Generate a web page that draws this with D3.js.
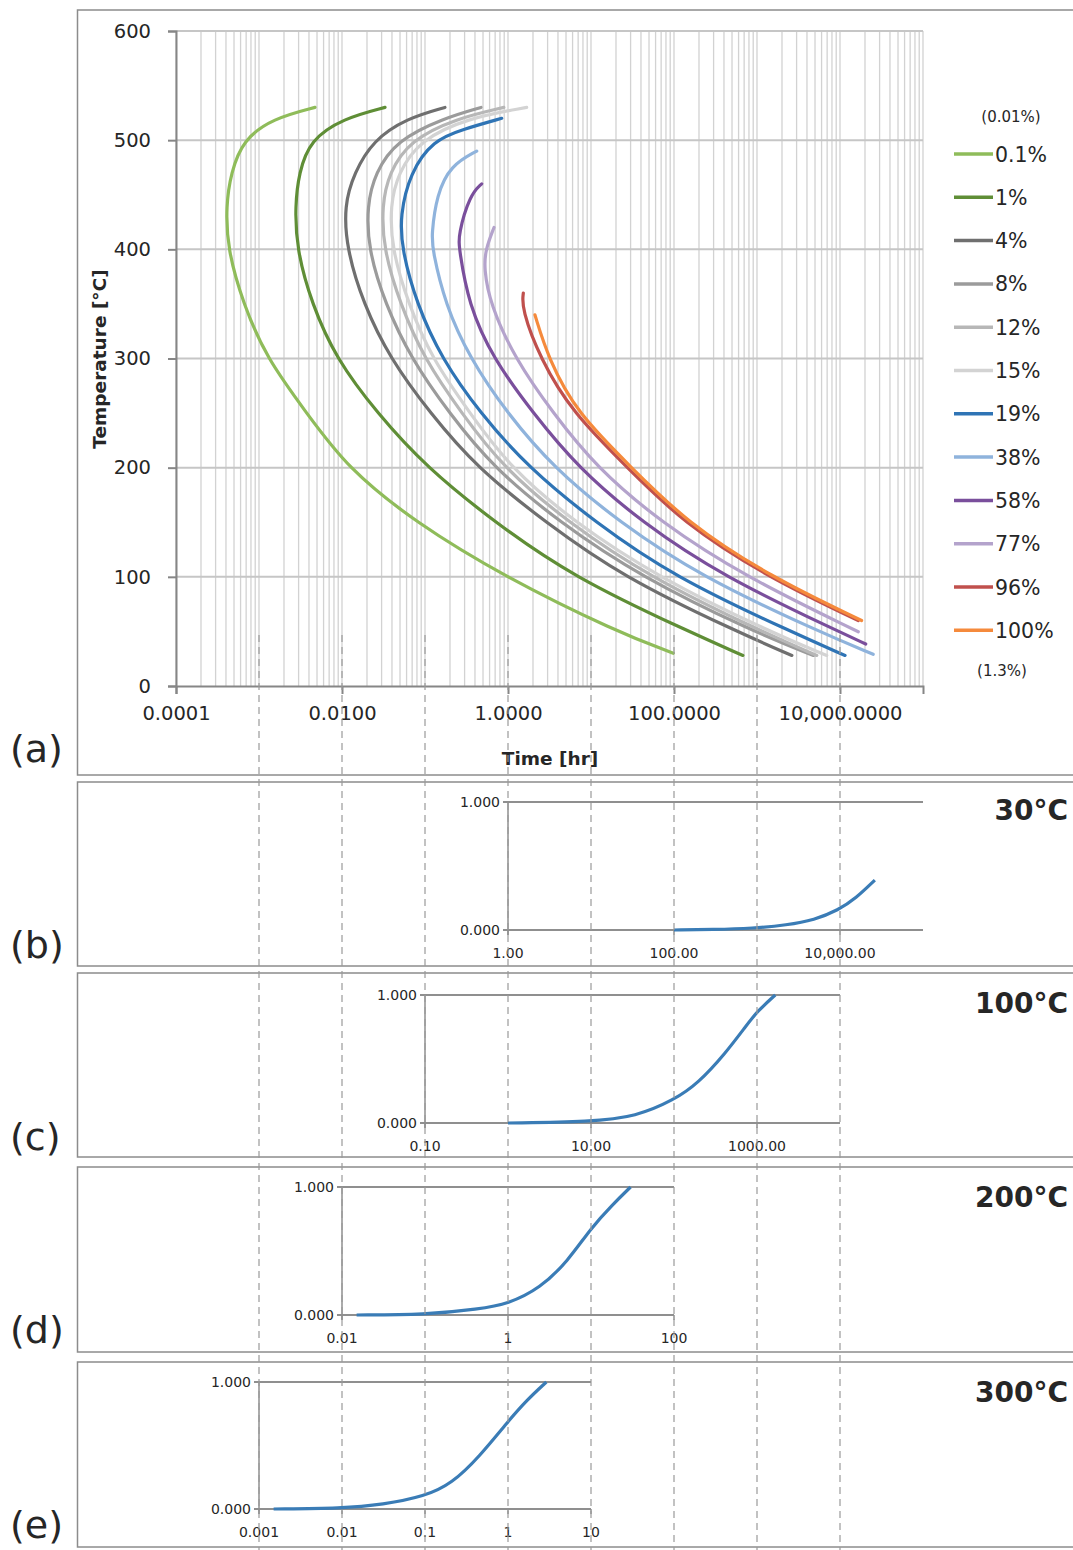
<!DOCTYPE html>
<html>
<head>
<meta charset="utf-8">
<script src="https://cdnjs.cloudflare.com/ajax/libs/d3/7.8.5/d3.min.js"></script>
<style>
  body { margin: 0; background: #fff; }
  text { font-family: "DejaVu Sans", sans-serif; fill: #262626; }
</style>
</head>
<body>
<svg id="chart" width="1073" height="1550"></svg>
<script>
// ---- data: [time in hr, temperature in °C] ----
var seriesNames = [ '0.1%', '1%', '4%', '8%', '12%', '15%', '19%', '38%', '58%', '77%', '96%', '100%' ];
var seriesColors = [ '#8fbc5a', '#5f8e36', '#6f6f6f', '#9b9b9b', '#b7b7b7', '#d3d3d3',
  '#2f74b5', '#8fb3dc', '#7a4f9c', '#b4a3cc', '#c0504d', '#f58a3c' ];

var pct0_1 = [ [0.00473,530], [0.00148,520], [0.000637,500], [0.00046,470], [0.0004,440], [0.000417,400],
  [0.000646,350], [0.00124,300], [0.00376,250], [0.0115,200], [0.0759,150], [0.912,100], [20,50], [98,30] ];
var pct1 = [ [0.033,530], [0.0104,520], [0.00411,500], [0.00303,470], [0.00272,440], [0.00284,400],
  [0.00432,350], [0.00847,300], [0.0264,250], [0.105,200], [0.692,150], [6.03,100], [148,50], [676,28] ];
var pct4 = [ [0.174,530], [0.0603,520], [0.0238,500], [0.014,470], [0.0106,440], [0.0114,400],
  [0.0181,350], [0.0379,300], [0.115,250], [0.42,200], [2.82,150], [24,100], [562,50], [2630,28] ];
var pct8 = [ [0.473,530], [0.166,520], [0.0457,500], [0.025,470], [0.02,440], [0.0207,400],
  [0.0331,350], [0.0678,300], [0.195,250], [0.665,200], [4.17,150], [39.8,100], [891,50], [4790,28] ];
var pct12 = [ [0.891,530], [0.24,520], [0.066,500], [0.0368,470], [0.0302,440], [0.0316,400],
  [0.0501,350], [0.0973,300], [0.275,250], [0.877,200], [5.25,150], [50.1,100], [1122,50], [5250,28] ];
var pct15 = [ [1.68,530], [0.318,520], [0.0871,500], [0.0473,470], [0.038,440], [0.0398,400],
  [0.063,350], [0.121,300], [0.347,250], [1.06,200], [6.3,150], [63,100], [1380,50], [6920,28] ];
var pct19 = [ [0.84,520], [0.288,510], [0.126,500], [0.0659,470], [0.0501,431], [0.0525,400],
  [0.0794,350], [0.158,300], [0.46,250], [1.76,200], [11.2,150], [100,100], [2510,50], [11500,28] ];
var pct38 = [ [0.42,490], [0.204,477], [0.138,450], [0.12,413], [0.123,400], [0.174,350],
  [0.348,300], [0.973,250], [3.52,200], [21.9,150], [214,100], [5500,50], [25100,29] ];
var pct58 = [ [0.482,460], [0.348,450], [0.251,413], [0.259,400], [0.333,350], [0.659,300],
  [2.0,250], [6.97,200], [40.7,150], [398,100], [9550,50], [20400,38.5] ];
var pct77 = [ [0.678,420], [0.537,400], [0.513,383], [0.607,350], [1.21,300], [3.48,250],
  [11.7,200], [69,150], [724,100], [16600,49.7] ];
var pct96 = [ [1.53,360], [1.46,346], [2.43,300], [6.03,250], [27.5,200], [126,150], [1320,100], [16600,60] ];
var pct100 = [ [2.11,340], [3.06,300], [6.76,250], [30.9,200], [141,150], [1450,100], [18200,60] ];

var allSeries = [ pct0_1, pct1, pct4, pct8, pct12, pct15, pct19, pct38, pct58, pct77, pct96, pct100 ];

var timeTicks = [ 0.0001, 0.01, 1, 100, 10000 ];
var timeTickLabels = [ '0.0001', '0.0100', '1.0000', '100.0000', '10,000.0000' ];
var tempTicks = [ 0, 100, 200, 300, 400, 500, 600 ];
var guideTimes = [ 0.001, 0.01, 0.1, 1, 10, 100, 1000, 10000 ];

// fraction transformed vs time [hr] at constant temperature
var iso30 = [ [100,0], [300,0.003], [891,0.013], [2290,0.039], [4900,0.078], [9550,0.156], [15500,0.247], [26300,0.39] ];
var iso100 = [ [1,0], [10,0.01], [35,0.05], [100,0.18], [195,0.31], [417,0.545], [741,0.76], [1000,0.87], [1660,1.0] ];
var iso200 = [ [0.015,0], [0.1,0.002], [0.45,0.047], [1,0.086], [2.45,0.21], [5.25,0.42], [10,0.68], [18,0.86], [30,1.0] ];
var iso300 = [ [0.0015,0], [0.01,0.005], [0.031,0.034], [0.1,0.1], [0.21,0.2], [0.45,0.41], [1,0.69], [1.7,0.86], [2.9,1.0] ];

var iso30Ticks = [ 1, 100, 10000 ], iso30Labels = [ '1.00', '100.00', '10,000.00' ];
var iso100Ticks = [ 0.1, 10, 1000 ], iso100Labels = [ '0.10', '10.00', '1000.00' ];
var iso200Ticks = [ 0.01, 1, 100 ], iso200Labels = [ '0.01', '1', '100' ];
var iso300Ticks = [ 0.001, 0.01, 0.1, 1, 10 ], iso300Labels = [ '0.001', '0.01', '0.1', '1', '10' ];
var fracLabels = [ '0.000', '1.000' ];

// ---- drawing ----
var svg = d3.select( '#chart' );

var x = d3.scaleLog().domain([ 1e-4, 1e5 ]).range([ 176, 923 ]);
var y = d3.scaleLinear().domain([ 0, 600 ]).range([ 686, 31 ]);

// frames
var frames = [ [10, 775], [782, 966], [973, 1157], [1167, 1352], [1362, 1547] ];
frames.forEach(function( f ) {
  svg.append( 'rect' )
    .attr( 'x', 77.5 ).attr( 'y', f[0] )
    .attr( 'width', 1100 ).attr( 'height', f[1] - f[0] )
    .attr( 'fill', 'none' ).attr( 'stroke', '#8c8c8c' ).attr( 'stroke-width', 1.5 );
});

// vertical gridlines, 1..9 per decade
var grid = svg.append( 'g' );
var minor = [];
for ( var d = -4; d < 5; d++ ) {
  for ( var k = 1; k < 10; k++ ) {
    minor.push( k * Math.pow( 10, d ) );
  }
}
minor.push( 1e5 );
grid.selectAll( 'line.v' ).data( minor ).enter().append( 'line' )
  .attr( 'x1', function( t ) { return x( t ); } )
  .attr( 'x2', function( t ) { return x( t ); } )
  .attr( 'y1', y( 600 ) ).attr( 'y2', y( 0 ) )
  .attr( 'stroke', '#d2d2d2' ).attr( 'stroke-width', 1.3 );

grid.selectAll( 'line.h' ).data( tempTicks.slice( 1 ) ).enter().append( 'line' )
  .attr( 'x1', x( 1e-4 ) ).attr( 'x2', x( 1e5 ) )
  .attr( 'y1', function( v ) { return y( v ); } )
  .attr( 'y2', function( v ) { return y( v ); } )
  .attr( 'stroke', '#c6c6c6' ).attr( 'stroke-width', 2 );

// axes
var xAxis = svg.append( 'g' )
  .attr( 'transform', 'translate(0,' + y( 0 ) + ')' )
  .call( d3.axisBottom( x ).tickValues( timeTicks ).tickSize( 8 ).tickPadding( 12 )
    .tickFormat( function( t, i ) { return timeTickLabels[ i ]; } ) );
var yAxis = svg.append( 'g' )
  .attr( 'transform', 'translate(' + x( 1e-4 ) + ',0)' )
  .call( d3.axisLeft( y ).tickValues( tempTicks ).tickSize( 8 ).tickPadding( 17 ) );

[ xAxis, yAxis ].forEach(function( a ) {
  a.select( '.domain' ).attr( 'stroke', '#868686' ).attr( 'stroke-width', 2 );
  a.selectAll( '.tick line' ).attr( 'stroke', '#868686' ).attr( 'stroke-width', 2 );
  a.selectAll( 'text' ).attr( 'font-family', '"DejaVu Sans", sans-serif' )
    .attr( 'font-size', 19.5 ).attr( 'fill', '#262626' );
});

svg.append( 'text' )
  .attr( 'x', 550 ).attr( 'y', 765 )
  .attr( 'text-anchor', 'middle' ).attr( 'font-weight', 'bold' ).attr( 'font-size', 18.5 )
  .text( 'Time [hr]' );
svg.append( 'text' )
  .attr( 'transform', 'translate(106,359) rotate(-90)' )
  .attr( 'text-anchor', 'middle' ).attr( 'font-weight', 'bold' ).attr( 'font-size', 18.5 )
  .text( 'Temperature [°C]' );

// curves
var line = d3.line()
  .x(function( p ) { return x( p[0] ); })
  .y(function( p ) { return y( p[1] ); })
  .curve( d3.curveBasis );

svg.append( 'g' ).selectAll( 'path' ).data( allSeries ).enter().append( 'path' )
  .attr( 'd', line )
  .attr( 'fill', 'none' )
  .attr( 'stroke', function( s, i ) { return seriesColors[ i ]; } )
  .attr( 'stroke-width', 3.2 )
  .attr( 'stroke-linecap', 'round' );

// legend
var legend = svg.append( 'g' );
legend.append( 'text' ).attr( 'x', 1011 ).attr( 'y', 122 )
  .attr( 'text-anchor', 'middle' ).attr( 'font-size', 15 ).text( '(0.01%)' );
legend.append( 'text' ).attr( 'x', 1002 ).attr( 'y', 676 )
  .attr( 'text-anchor', 'middle' ).attr( 'font-size', 15 ).text( '(1.3%)' );
var rows = legend.selectAll( 'g.row' ).data( seriesNames ).enter().append( 'g' )
  .attr( 'transform', function( n, i ) { return 'translate(0,' + ( 154 + i * 43.3 ) + ')'; } );
rows.append( 'line' ).attr( 'x1', 954 ).attr( 'x2', 993 )
  .attr( 'stroke', function( n, i ) { return seriesColors[ i ]; } )
  .attr( 'stroke-width', 3.5 );
rows.append( 'text' ).attr( 'x', 995 ).attr( 'dy', '0.37em' )
  .attr( 'font-size', 20.5 ).text(function( n ) { return n; });

// panel letters
var letters = [ [ '(a)', 762 ], [ '(b)', 958 ], [ '(c)', 1150 ], [ '(d)', 1343 ], [ '(e)', 1538 ] ];
letters.forEach(function( l ) {
  svg.append( 'text' ).attr( 'x', 10 ).attr( 'y', l[1] )
    .attr( 'font-size', 38 ).attr( 'fill', '#111' ).text( l[0] );
});

// isothermal panels
var panels = [
  { data: iso30, ticks: iso30Ticks, labels: iso30Labels, lo: 1, hi: 1e5, y0: 930, y1: 802, name: '30°C', base: 820 },
  { data: iso100, ticks: iso100Ticks, labels: iso100Labels, lo: 0.1, hi: 1e4, y0: 1123, y1: 995, name: '100°C', base: 1013 },
  { data: iso200, ticks: iso200Ticks, labels: iso200Labels, lo: 0.01, hi: 100, y0: 1315, y1: 1187, name: '200°C', base: 1207 },
  { data: iso300, ticks: iso300Ticks, labels: iso300Labels, lo: 0.001, hi: 10, y0: 1509, y1: 1382, name: '300°C', base: 1402 }
];

panels.forEach(function( p ) {
  var g = svg.append( 'g' );
  var fy = d3.scaleLinear().domain([ 0, 1 ]).range([ p.y0, p.y1 ]);

  [ 0, 1 ].forEach(function( v ) {
    g.append( 'line' )
      .attr( 'x1', x( p.lo ) - 5 ).attr( 'x2', x( p.hi ) )
      .attr( 'y1', fy( v ) ).attr( 'y2', fy( v ) )
      .attr( 'stroke', '#8f8f8f' ).attr( 'stroke-width', 2 );
    g.append( 'text' )
      .attr( 'x', x( p.lo ) - 8 ).attr( 'y', fy( v ) ).attr( 'dy', '0.35em' )
      .attr( 'text-anchor', 'end' ).attr( 'font-size', 14 ).attr( 'fill', '#333' )
      .text( fracLabels[ v ] );
  });
  g.append( 'line' )
    .attr( 'x1', x( p.lo ) ).attr( 'x2', x( p.lo ) )
    .attr( 'y1', fy( 1 ) ).attr( 'y2', fy( 0 ) + 5 )
    .attr( 'stroke', '#8f8f8f' ).attr( 'stroke-width', 1.5 );

  g.selectAll( 'line.tk' ).data( p.ticks ).enter().append( 'line' )
    .attr( 'x1', function( t ) { return x( t ); } )
    .attr( 'x2', function( t ) { return x( t ); } )
    .attr( 'y1', fy( 0 ) ).attr( 'y2', fy( 0 ) + 5 )
    .attr( 'stroke', '#8f8f8f' ).attr( 'stroke-width', 1.5 );
  g.selectAll( 'text.tl' ).data( p.ticks ).enter().append( 'text' )
    .attr( 'x', function( t ) { return x( t ); } )
    .attr( 'y', fy( 0 ) + 28 )
    .attr( 'text-anchor', 'middle' ).attr( 'font-size', 14 ).attr( 'fill', '#333' )
    .text(function( t, i ) { return p.labels[ i ]; });

  var fline = d3.line()
    .x(function( q ) { return x( q[0] ); })
    .y(function( q ) { return fy( q[1] ); })
    .curve( d3.curveBasis );
  g.append( 'path' ).attr( 'd', fline( p.data ) )
    .attr( 'fill', 'none' ).attr( 'stroke', '#3a7cb6' ).attr( 'stroke-width', 3.2 );

  svg.append( 'text' )
    .attr( 'x', 1068 ).attr( 'y', p.base )
    .attr( 'text-anchor', 'end' ).attr( 'font-family', 'Lato, sans-serif' )
    .attr( 'font-weight', 'bold' ).attr( 'font-size', 28 ).attr( 'fill', '#111' )
    .text( p.name );
});

// dashed guides running down through all panels
svg.append( 'g' ).selectAll( 'line' ).data( guideTimes ).enter().append( 'line' )
  .attr( 'x1', function( t ) { return x( t ); } )
  .attr( 'x2', function( t ) { return x( t ); } )
  .attr( 'y1', 635 ).attr( 'y2', 1550 )
  .attr( 'stroke', '#9a9a9a' ).attr( 'stroke-width', 1.2 )
  .attr( 'stroke-dasharray', '7,5' );
</script>
</body>
</html>
